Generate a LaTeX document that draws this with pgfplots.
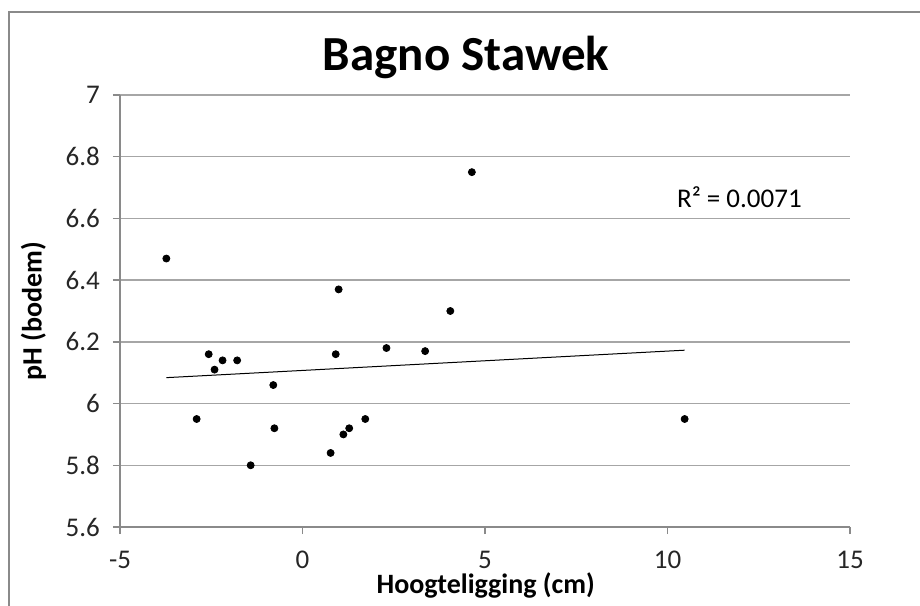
\documentclass[border=0pt]{standalone}
\usepackage{pgfplots}
\pgfplotsset{compat=1.18}
\usepackage{fontspec}
\setmainfont{Carlito}
\definecolor{gridc}{HTML}{A6A6A6}
\definecolor{axc}{HTML}{8A8A8A}
\begin{document}
\begin{tikzpicture}
\useasboundingbox (-60pt,-39pt) rectangle (400pt,263.5pt);
\draw[axc, line width=1.1pt] (-55.5pt,-60pt) -- (-55.5pt,257.5pt) -- (420pt,257.5pt);
\begin{axis}[
  at={(0pt,0pt)}, anchor=south west,
  scale only axis, width=365pt, height=216pt,
  xmin=-5, xmax=15, ymin=5.6, ymax=7,
  xtick={-5,0,5,10,15}, xticklabels={-5,0,5,10,15},
  ytick={5.6,5.8,6,6.2,6.4,6.6,6.8,7},
  yticklabels={5.6,5.8,6,6.2,6.4,6.6,6.8,7},
  axis x line*=bottom, axis y line*=left,
  axis line style={axc, line width=0.65pt},
  ymajorgrids, major grid style={gridc, line width=0.65pt},
  tick align=outside, major tick length=3.5pt,
  tick style={axc, line width=0.65pt},
  ticklabel style={font=\fontsize{13.5}{16}\selectfont, text=black!85},
  yticklabel style={xshift=-3pt},
  xticklabel style={inner sep=0pt, yshift=-8.2pt},
  /pgf/number format/assume math mode=true,
  title={Bagno Stawek},
  title style={at={(rel axis cs:0.474,1.030)}, anchor=base, font=\fontsize{24.5}{30}\selectfont\bfseries},
  xlabel={Hoogteligging (cm)},
  xlabel style={at={(rel axis cs:0.501,-0.154)}, anchor=base, inner sep=0pt, font=\fontsize{14}{16}\selectfont\bfseries},
  ylabel={pH (bodem)},
  ylabel style={at={(rel axis cs:-0.1185,0.5)}, anchor=center, rotate=0, font=\fontsize{14}{16}\selectfont\bfseries},
  clip=false,
]
\addplot[only marks, mark=*, mark size=1.75pt, black] coordinates {
(-3.73,6.47) (-2.90,5.95) (-2.57,6.16) (-2.41,6.11) (-2.19,6.14)
(-1.79,6.14) (-1.42,5.80) (-0.80,6.06) (-0.77,5.92) (0.77,5.84)
(0.91,6.16) (0.99,6.37) (1.12,5.90) (1.28,5.92) (1.72,5.95)
(2.30,6.18) (3.36,6.17) (4.05,6.30) (4.64,6.75) (10.47,5.95)
};
\addplot[black, line width=0.5pt] coordinates {(-3.73,6.084) (10.47,6.173)};
\node[font=\fontsize{13.5}{16}\selectfont] at (axis cs:11.97,6.67) {R² = 0.0071};
\end{axis}
\end{tikzpicture}
\end{document}
